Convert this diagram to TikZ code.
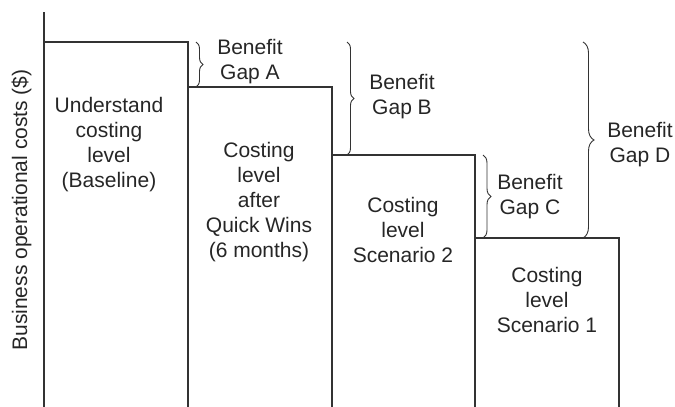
\documentclass[tikz,border=0pt]{standalone}
\usepackage{fontspec}
\setmainfont{Liberation Sans}
\usetikzlibrary{decorations.pathreplacing}

\begin{document}
\begin{tikzpicture}[x=1pt, y=-1pt,
  level/.style={draw=black!80, line width=1.2pt},
  gap/.style={draw=black!80, line width=0.9pt, decorate, decoration={brace, amplitude=#1}},
  gap/.default=7pt,
  txt/.style={align=center, text=black!85, font=\fontsize{21}{25}\selectfont, inner sep=0pt}
]
  \useasboundingbox (0,0) rectangle (675,407);

  \coordinate (axistop) at (44,12);
  \coordinate (axisbot) at (44,407);
  \coordinate (baseline) at (44,42);
  \coordinate (quick) at (188,87);
  \coordinate (scen2) at (332,155);
  \coordinate (scen1) at (475,238);

  \draw[level] (axistop) -- (axisbot);
  \draw[level] (baseline) -- (188,42) -- (188,407);
  \draw[level] (quick) -- (332,87) -- (332,407);
  \draw[level] (scen2) -- (475,155) -- (475,407);
  \draw[level] (scen1) -- (619,238) -- (619,407);

  \node[txt, rotate=90] (yaxis) at (21.5,210) {Business operational costs (\$)};

  \node[txt] (base) at (109,145) {Understand\\costing\\level\\(Baseline)};
  \node[txt] (wins) at (259,202.5) {Costing\\level\\after\\Quick Wins\\(6 months)};
  \node[txt] (two) at (403,230.3) {Costing\\level\\Scenario 2};
  \node[txt] (one) at (547,300.3) {Costing\\level\\Scenario 1};

  \draw[gap] (196,42) -- (196,87);
  \draw[gap] (347,42) -- (347,155);
  \draw[gap=8pt] (483,155) -- (483,238);
  \draw[gap=11pt] (583,42) -- (583,238);

  \node[txt] (gapa) at (250,62) {Benefit\\Gap A};
  \node[txt] (gapb) at (402,97) {Benefit\\Gap B};
  \node[txt] (gapc) at (530,197) {Benefit\\Gap C};
  \node[txt] (gapd) at (640,145) {Benefit\\Gap D};
\end{tikzpicture}
\end{document}
